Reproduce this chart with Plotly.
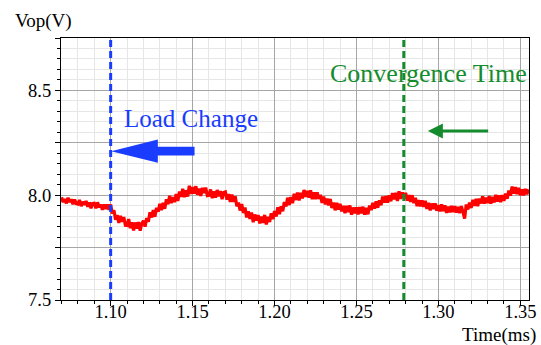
import numpy as np
import plotly.graph_objects as go

# ---- data ----
t_start_ms = 1.070
t_step_ms = 0.001
vop_v = [
    7.990, 7.967, 7.982, 7.961, 7.988, 7.968, 7.980, 7.957, 7.979, 7.960,
    7.958, 7.977, 7.948, 7.968, 7.955, 7.972, 7.945, 7.966, 7.938, 7.961,
    7.962, 7.938, 7.966, 7.942, 7.955, 7.931, 7.956, 7.934, 7.956, 7.930,
    7.956, 7.913, 7.928, 7.883, 7.905, 7.868, 7.901, 7.874, 7.896, 7.856,
    7.855, 7.886, 7.843, 7.871, 7.832, 7.870, 7.841, 7.872, 7.831, 7.865,
    7.878, 7.850, 7.891, 7.873, 7.919, 7.894, 7.929, 7.897, 7.940, 7.921,
    7.959, 7.929, 7.963, 7.935, 7.980, 7.957, 7.997, 7.963, 7.991, 7.967,
    8.005, 7.973, 8.017, 7.992, 8.030, 7.991, 8.023, 7.994, 8.045, 8.006,
    8.038, 8.007, 8.043, 8.002, 8.031, 7.997, 8.035, 8.010, 8.036, 7.998,
    7.999, 8.027, 7.986, 8.018, 7.988, 8.025, 7.995, 8.020, 7.981, 8.013,
    8.016, 7.979, 8.005, 7.968, 8.003, 7.968, 7.995, 7.947, 7.965, 7.927,
    7.958, 7.915, 7.941, 7.894, 7.923, 7.887, 7.917, 7.871, 7.908, 7.879,
    7.905, 7.865, 7.898, 7.868, 7.906, 7.860, 7.897, 7.872, 7.914, 7.886,
    7.924, 7.898, 7.942, 7.910, 7.947, 7.924, 7.967, 7.946, 7.988, 7.953,
    7.991, 7.962, 8.007, 7.977, 8.012, 7.975, 8.011, 7.985, 8.025, 7.992,
    8.021, 7.989, 8.023, 7.981, 8.013, 7.981, 8.014, 7.982, 8.002, 7.963,
    7.994, 7.956, 7.983, 7.952, 7.982, 7.939, 7.965, 7.928, 7.963, 7.931,
    7.959, 7.923, 7.949, 7.915, 7.949, 7.920, 7.951, 7.907, 7.941, 7.914,
    7.942, 7.908, 7.943, 7.913, 7.945, 7.907, 7.939, 7.909, 7.951, 7.929,
    7.964, 7.936, 7.971, 7.940, 7.976, 7.952, 7.993, 7.965, 7.995, 7.965,
    7.999, 7.971, 8.010, 7.980, 8.011, 7.973, 8.019, 7.982, 8.013, 7.988,
    8.011, 7.974, 8.000, 7.968, 8.000, 7.962, 7.988, 7.948, 7.976, 7.947,
    7.975, 7.944, 7.973, 7.935, 7.963, 7.928, 7.960, 7.934, 7.961, 7.926,
    7.952, 7.923, 7.956, 7.924, 7.951, 7.916, 7.945, 7.918, 7.949, 7.920,
    7.948, 7.917, 7.944, 7.915, 7.948, 7.922, 7.888, 7.956, 7.932, 7.965,
    7.939, 7.978, 7.949, 7.982, 7.948, 7.984, 7.961, 7.995, 7.960, 7.988,
    7.963, 7.996, 7.960, 7.992, 7.965, 8.002, 7.970, 7.999, 7.967, 8.001,
    7.973, 8.007, 7.983, 8.022, 7.998, 8.041, 8.008, 8.038, 8.005, 8.035,
    8.000, 8.028, 7.999, 8.030, 8.004, 8.028,
]
time_ms = np.round(t_start_ms + t_step_ms * np.arange(len(vop_v)), 4)

x_tick_vals = [1.10, 1.15, 1.20, 1.25, 1.30, 1.35]
x_tick_text = ["1.10", "1.15", "1.20", "1.25", "1.30", "1.35"]
y_tick_vals = [7.5, 7.75, 8.0, 8.25, 8.5, 8.75]
y_tick_text = ["7.5", "", "8.0", "", "8.5", ""]

load_change_t = 1.10
convergence_t = 1.2789

# ---- styles ----
FONT = "Liberation Serif"
BLUE = "rgb(25,60,255)"
GREEN = "rgb(20,140,45)"
RED = "rgb(255,0,0)"

fig = go.Figure()
fig.add_trace(go.Scatter(x=time_ms, y=vop_v, mode="lines",
                         line=dict(color=RED, width=3.2, simplify=False),
                         showlegend=False, hoverinfo="skip"))

axis_common = dict(
    showline=True, linecolor="black", linewidth=1.2, mirror=True,
    showgrid=True, gridcolor="#a6a6a6", gridwidth=1,
    ticks="outside", ticklen=5, tickcolor="black", tickwidth=1,
    tickfont=dict(family=FONT, size=18.5, color="black"),
    zeroline=False, automargin=False,
)

fig.update_xaxes(
    range=[1.0697, 1.3553], tickmode="array",
    tickvals=x_tick_vals, ticktext=x_tick_text,
    ticklabelstandoff=-10,
    minor=dict(dtick=0.01, tick0=1.0, showgrid=True, gridcolor="#e6e6e6",
               gridwidth=1, ticks="outside", ticklen=3, tickcolor="black"),
    **axis_common,
)
fig.update_yaxes(
    range=[7.5, 8.75], tickmode="array",
    tickvals=y_tick_vals, ticktext=y_tick_text,
    minor=dict(dtick=0.05, tick0=7.5, showgrid=True, gridcolor="#e6e6e6",
               gridwidth=1, ticks="outside", ticklen=3, tickcolor="black"),
    **axis_common,
)

shapes = [
    dict(type="line", xref="x", yref="paper", x0=load_change_t, x1=load_change_t,
         y0=0, y1=1, line=dict(color=BLUE, width=3, dash="7px,4px"), layer="above"),
    dict(type="line", xref="x", yref="paper", x0=convergence_t, x1=convergence_t,
         y0=0, y1=1, line=dict(color=GREEN, width=3, dash="7px,4px"), layer="above"),
    # big blue arrow pointing to the load-change line
    dict(type="path", xref="x", yref="y", layer="above",
         path="M 1.1003 8.210 L 1.1288 8.266 L 1.1288 8.231 L 1.1512 8.231 "
              "L 1.1512 8.190 L 1.1288 8.190 L 1.1288 8.155 Z",
         fillcolor=BLUE, line=dict(color=BLUE, width=0)),
]

annotations = [
    dict(text="Load Change", x=1.1072, y=8.366, xref="x", yref="y",
         xanchor="left", yanchor="middle", showarrow=False,
         font=dict(family=FONT, size=25, color=BLUE)),
    dict(text="Convergence Time", x=1.2325, y=8.581, xref="x", yref="y",
         xanchor="left", yanchor="middle", showarrow=False,
         font=dict(family=FONT, size=26, color=GREEN)),
    dict(text="", x=1.2936, y=8.306, ax=1.3313, ay=8.306,
         xref="x", yref="y", axref="x", ayref="y",
         showarrow=True, arrowhead=2, arrowsize=1, arrowwidth=3,
         arrowcolor=GREEN, standoff=0),
    dict(text="Vop(V)", x=43, y=21, xref="paper", yref="paper",
         showarrow=False, font=dict(family=FONT, size=19, color="black")),
    dict(text="Time(ms)", x=499, y=335, xref="paper", yref="paper",
         showarrow=False, font=dict(family=FONT, size=19, color="black")),
]

W, H = 541, 345
L, R, T, B = 61, 12, 38, 45
pw, ph = W - L - R, H - T - B
# convert pixel positions of the axis titles to paper coordinates
for a in annotations[3:]:
    a["x"] = (a["x"] - L) / pw
    a["y"] = (H - B - a["y"]) / ph
    a["xanchor"] = "center"
    a["yanchor"] = "middle"

fig.update_layout(
    width=W, height=H,
    margin=dict(l=L, r=R, t=T, b=B, autoexpand=False),
    paper_bgcolor="white", plot_bgcolor="white",
    shapes=shapes, annotations=annotations,
    showlegend=False,
)

fig.write_html(
    "out.html",
    config={"displayModeBar": False},
    post_script="document.body.style.margin='0';document.body.style.overflow='hidden';",
)
